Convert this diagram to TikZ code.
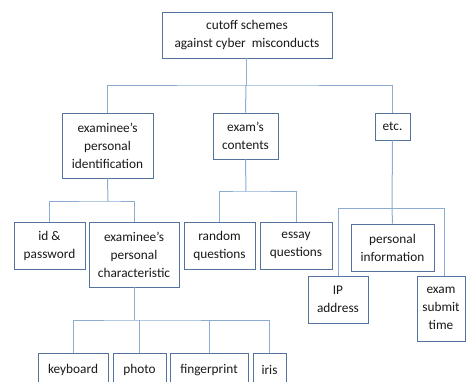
\documentclass[tikz,border=0pt]{standalone}
\usepackage{fontspec}
\setmainfont{Carlito}
\begin{document}
\begin{tikzpicture}[x=1pt,y=-1pt,
  box/.style={draw=boxc, line width=0.9pt, fill=white, align=center, inner sep=0pt,
    font=\fontsize{13.3}{18}\selectfont, text=black!90},
  conn/.style={draw=linec, line width=1pt}]
\definecolor{boxc}{RGB}{84,115,156}
\definecolor{linec}{RGB}{140,172,210}
\path[use as bounding box, clip] (0,0) rectangle (466,381);
% nodes
\node[box, minimum width=170pt, minimum height=46pt] (top) at (247,35) {cutoff schemes\\against cyber\ \ misconducts};
\node[box, minimum width=91pt, minimum height=65pt] (epi) at (107.5,145.5) {examinee’s\\personal\\identification};
\node[box, minimum width=65pt, minimum height=46pt] (ec) at (245.5,136) {exam’s\\contents};
\node[box, minimum width=35pt, minimum height=27pt] (etc) at (392.5,126.5) {etc.};
\node[box, minimum width=71pt, minimum height=47pt] (idp) at (49.5,245.5) {id \&\\password};
\node[box, minimum width=90pt, minimum height=65pt] (epc) at (134,254.5) {examinee’s\\personal\\characteristic};
\node[box, minimum width=71pt, minimum height=47pt] (rq) at (219.5,245.5) {random\\questions};
\node[box, minimum width=72pt, minimum height=47pt] (eq) at (296,245.5) {essay\\questions};
\node[box, minimum width=83pt, minimum height=47pt] (pi) at (392.5,247.5) {personal\\information};
\node[box, minimum width=60pt, minimum height=47pt] (ip) at (338,299.5) {IP\\address};
\node[box, minimum width=48pt, minimum height=65pt] (est) at (441,308.5) {exam\\submit\\time};
\node[box, minimum width=70pt, minimum height=34pt] (kb) at (73,370) {keyboard};
\node[box, minimum width=53pt, minimum height=34pt] (ph) at (139.5,370) {photo};
\node[box, minimum width=78pt, minimum height=34pt] (fp) at (209,370) {fingerprint};
\node[box, minimum width=33pt, minimum height=34pt] (ir) at (269.5,370) {iris};
% bus coordinates
\coordinate (b1) at (246,85);
\coordinate (b2) at (108,201);
\coordinate (b3) at (246,191);
\coordinate (b4) at (392,208);
\coordinate (b5) at (134,320);
% connectors
\draw[conn] (b1 |- top.south) -- (b1);
\draw[conn] (epi.north) |- (b1) -| (etc.north);
\draw[conn] (b1) -- (ec.north);
\draw[conn] (epi.south) -- (b2);
\draw[conn] (idp.north) |- (b2) -| (epc.north);
\draw[conn] (ec.south) -- (b3);
\draw[conn] (rq.north) |- (b3) -| (eq.north);
\draw[conn] (etc.south) -- (b4) -- (pi.north);
\draw[conn] (b4) -| (ip.north);
\draw[conn] (b4) -| ([xshift=3pt]est.north);
\draw[conn] (epc.south) -- (b5);
\draw[conn] (kb.north) |- (b5) -| (ir.north);
\draw[conn] (ph.north) -- (ph.north |- b5);
\draw[conn] (fp.north) -- (fp.north |- b5);
\end{tikzpicture}
\end{document}
